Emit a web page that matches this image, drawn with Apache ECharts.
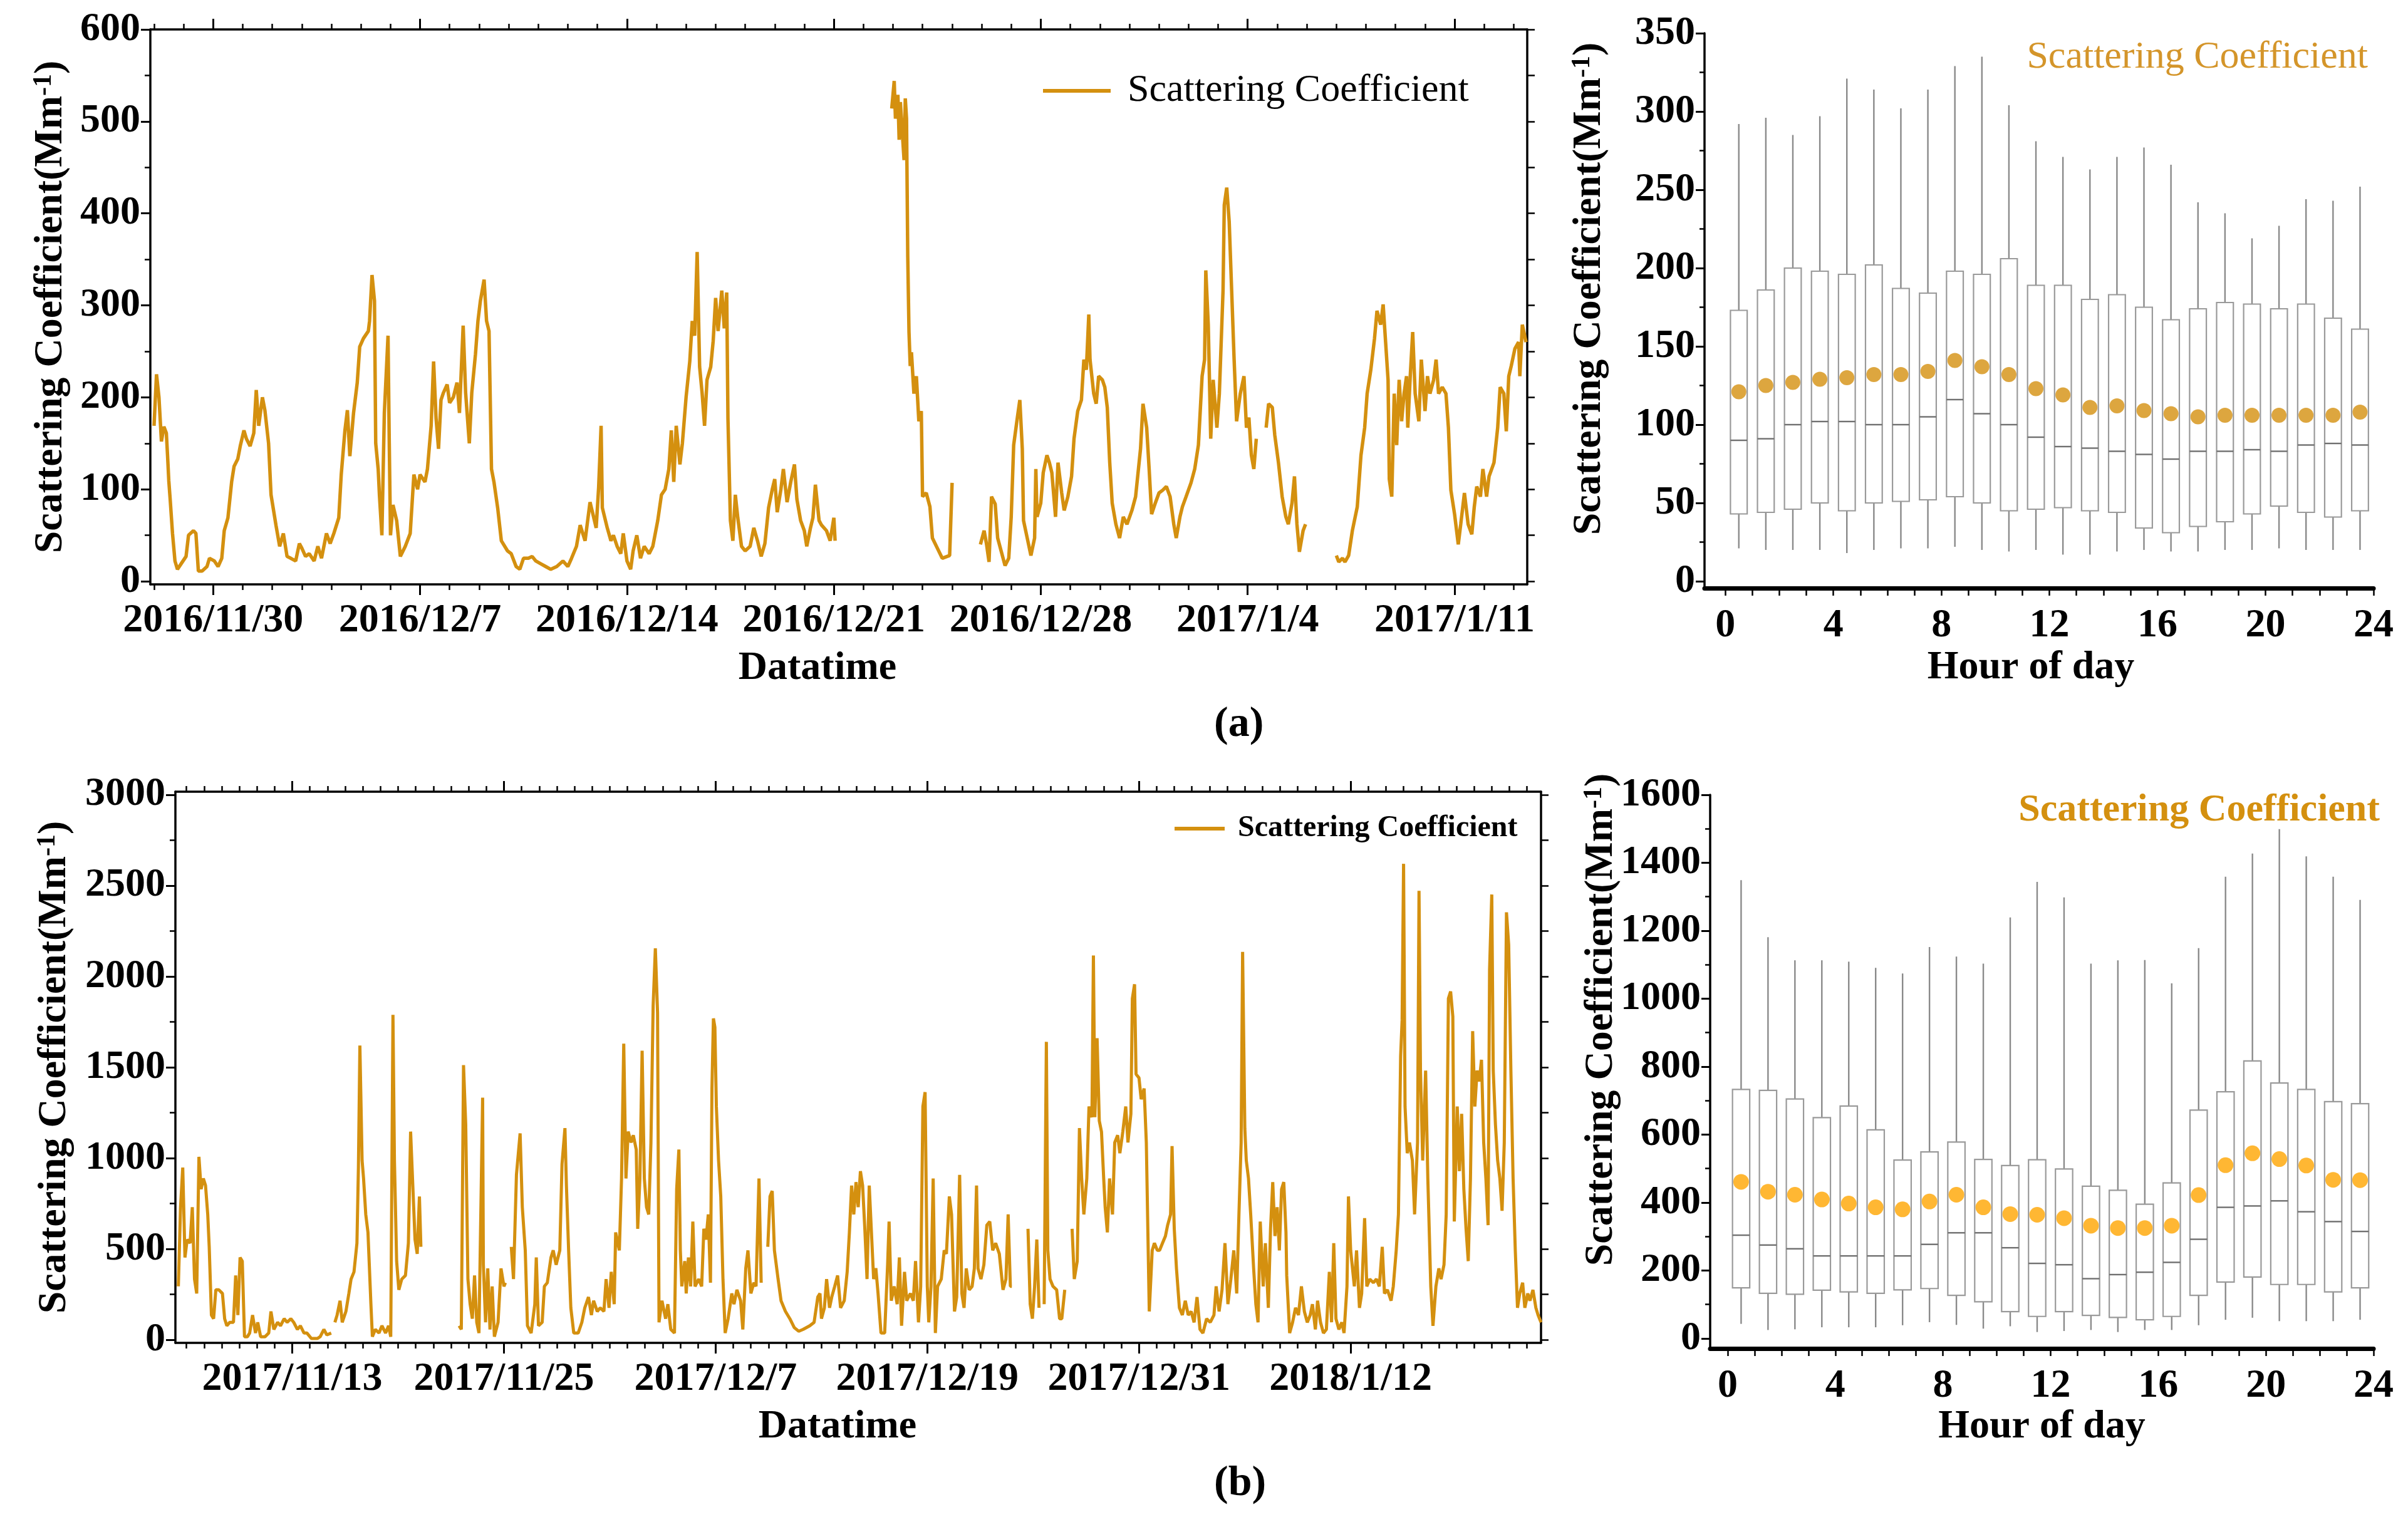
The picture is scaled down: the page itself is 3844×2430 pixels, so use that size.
<!DOCTYPE html>
<html><head><meta charset="utf-8">
<script src="https://cdn.jsdelivr.net/npm/echarts@6/dist/echarts.min.js"></script>
<style>html,body{margin:0;padding:0;background:#fff}#c{width:3844px;height:2430px}</style>
</head><body><div id="c"></div>
<script>
const FONT = "'Liberation Serif','Times New Roman',serif";
const GOLD = '#D4900F';
const ORANGE = '#FFA500';
const SERIES_NAME = 'Scattering Coefficient';

// ---------- Panel (a) time series: hours after 2016/11/30 00:00 ----------
const baseA = '2016/11/30';
const dateTicksA = ['2016/11/30','2016/12/7','2016/12/14','2016/12/21','2016/12/28','2017/1/4','2017/1/11'];
const yTicksA = [0,100,200,300,400,500,600];
const yMinorA = [50,150,250,350,450,550];
const segA1 = [[-48,169],[-46,225],[-44,200],[-42,152],[-40,168],[-38,161],[-37,136],[-36,109],[-35,91],[-33,52],[-31,22],[-29,13],[-26,19],[-22,27],[-20,50],[-16,55],[-14,52],[-12,11],[-9,11],[-5,16],[-3,25],[1,22],[4,16],[7,25],[9,55],[12,69],[15,108],[17,125],[20,133],[22,147],[25,164],[27,155],[30,147],[33,161],[35,208],[37,169],[40,200],[42,186],[45,150],[47,94],[51,61],[54,38],[57,52],[60,27],[63,25],[67,22],[70,41],[72,36],[75,27],[78,30],[82,22],[85,38],[88,25],[92,52],[95,41],[98,52],[102,69],[104,116],[107,164],[109,186],[111,136],[114,183],[117,216],[119,255],[122,264],[126,272],[127,283],[129,333],[131,305],[132,150],[134,122],[135,94],[137,50],[139,183],[142,267],[143,150],[144,50],[146,83],[149,66],[152,27],[156,38],[160,52],[163,116],[166,100],[168,116],[172,108],[174,122],[177,169],[179,239],[181,177],[183,144],[185,197],[187,205],[190,214],[192,194],[195,200],[198,216],[200,183],[203,278],[205,205],[208,150],[210,205],[213,247],[215,283],[217,305],[220,328],[222,283],[224,272],[226,122],[228,108],[231,80],[234,44],[239,33],[242,30],[246,16],[249,13],[252,25],[256,25],[259,27],[262,22],[266,19],[270,16],[274,13],[279,16],[284,22],[288,16],[291,25],[295,38],[298,61],[302,44],[306,86],[308,75],[311,58],[313,102],[315,169],[316,80],[320,58],[323,44],[325,50],[328,38],[331,30],[333,52],[336,22],[339,13],[341,33],[344,50],[347,25],[350,38],[354,30],[357,38],[361,66],[364,94],[367,100],[370,122],[372,164],[374,108],[376,169],[379,127],[381,150],[384,200],[387,239],[389,283],[391,267],[393,358],[395,233],[397,205],[399,169],[401,219],[404,233],[406,261],[408,308],[410,272],[413,316],[415,275],[417,314],[418,177],[420,66],[422,44],[424,94],[426,69],[429,38],[432,33],[436,38],[439,58],[442,44],[445,27],[448,41],[451,80],[454,100],[456,111],[458,75],[461,100],[463,122],[466,86],[469,108],[472,127],[474,89],[477,66],[480,55],[482,38],[485,58],[487,69],[489,105],[492,66],[494,61],[498,55],[501,44],[504,69],[505,44]];
const segA2 = [[551,514],[553,544],[554,503],[556,529],[557,480],[558,521],[561,458],[562,525],[563,503],[564,353],[565,271],[566,234],[567,249],[569,204],[571,223],[573,174],[575,185],[576,92],[579,96],[582,81],[584,47],[588,36],[592,25],[598,28],[600,107]];
const segA3 = [[623,40],[626,55],[628,40],[630,21],[632,92],[633,92],[635,84],[637,47],[640,32],[643,17],[646,25],[648,70],[650,148],[653,178],[655,197],[657,144],[658,66],[661,47],[664,28],[667,47],[668,122],[669,70],[672,85],[674,118],[677,137],[679,129],[681,118],[684,70],[686,129],[689,96],[691,77],[694,92],[697,114],[699,155],[702,185],[705,197],[707,241],[709,230],[711,290],[712,241],[715,204],[717,193],[719,223],[722,219],[724,211],[726,189],[728,129],[730,85],[733,62],[736,47],[739,70],[742,62],[746,77],[749,92],[753,144],[755,193],[758,167],[760,122],[762,73],[765,85],[768,96],[771,99],[774,103],[777,92],[780,62],[782,47],[785,70],[787,81],[790,92],[794,107],[797,122],[800,148],[803,223],[805,241],[806,338],[808,279],[810,155],[812,219],[815,167],[817,204],[820,316],[821,409],[823,428],[825,391],[827,316],[829,241],[831,174],[834,204],[837,223],[839,167],[841,178],[843,137],[845,122],[847,155]];
const segA4 = [[855,167],[857,193],[860,189],[862,159],[865,129],[868,92],[871,70],[873,62],[876,85],[878,114],[880,62],[882,32],[885,55],[887,62]];
const segA5 = [[912,28],[914,21],[917,25],[919,21],[922,28],[925,55],[929,81],[932,137],[935,167],[937,204],[940,230],[943,264],[945,294],[948,279],[950,301],[952,260],[954,219],[955,111],[957,92],[959,204],[961,148],[963,219],[965,174],[967,204],[969,223],[970,167],[972,223],[974,271],[976,204],[979,174],[981,241],[984,185],[986,223],[988,204],[991,219],[993,241],[995,204],[998,211],[1001,204],[1003,167],[1005,99],[1008,73],[1011,40],[1013,62],[1016,96],[1019,62],[1022,51],[1024,81],[1026,103],[1029,92],[1031,122],[1034,92],[1036,114],[1040,129],[1043,167],[1045,211],[1048,204],[1050,163],[1052,223],[1054,234],[1057,253],[1060,260],[1061,223],[1063,279],[1066,260]];

// ---------- Panel (b) time series: hours after 2017/11/13 00:00 ----------
const baseB = '2017/11/13';
const dateTicksB = ['2017/11/13','2017/11/25','2017/12/7','2017/12/19','2017/12/31','2018/1/12'];
const yTicksB = [0,500,1000,1500,2000,2500,3000];
const yMinorB = [250,750,1250,1750,2250,2750];
const segB1 = [[-155,294],[-152,730],[-149,948],[-146,453],[-143,552],[-139,532],[-136,730],[-133,334],[-130,255],[-127,1007],[-124,829],[-121,888],[-118,849],[-115,690],[-113,512],[-110,136],[-107,116],[-104,275],[-100,275],[-95,255],[-92,116],[-89,77],[-85,96],[-80,96],[-77,354],[-74,136],[-71,453],[-68,433],[-65,17],[-61,17],[-58,37],[-54,136],[-50,37],[-47,96],[-43,17],[-37,17],[-32,37],[-29,156],[-25,57],[-20,96],[-16,77],[-11,116],[-7,96],[-2,116],[2,96],[7,57],[11,77],[16,37],[20,37],[26,7],[34,7],[38,17],[43,57],[47,27],[53,37]];
const segB2 = [[58,96],[61,136],[65,215],[68,96],[73,156],[77,255],[80,334],[84,374],[88,532],[90,948],[92,1620],[95,987],[97,888],[100,690],[103,591],[107,196],[109,17],[113,57],[118,37],[122,77],[127,37],[131,77],[134,17],[137,1789],[139,987],[142,433],[145,275],[149,334],[154,354],[158,532],[161,1146],[164,849],[167,552],[170,473],[173,789],[175,512]];
const segB3 = [[227,77],[230,57],[233,1512],[236,1185],[239,334],[242,196],[245,116],[248,354],[251,96],[254,37],[259,1333],[260,413],[263,96],[266,393],[269,57],[272,294],[275,17],[280,96],[284,393],[288,294],[290,314]];
const segB4 = [[298,512],[301,334],[305,908],[310,1136],[313,730],[317,492],[320,77],[325,37],[330,196],[332,453],[335,77],[340,96],[343,294],[347,314],[352,453],[355,492],[359,413],[364,492],[367,967],[371,1165],[373,849],[376,492],[379,176],[383,37],[389,37],[394,96],[398,176],[403,235],[407,136],[410,215],[415,156],[419,176],[424,156],[427,334],[431,176],[434,374],[438,196],[440,591],[445,492],[448,888],[451,1630],[454,888],[457,1146],[461,1086],[464,1126],[468,1047],[470,611],[473,888],[476,1591],[479,888],[482,730],[485,690],[488,1086],[491,1838],[494,2155],[497,1799],[499,96],[503,215],[508,116],[511,196],[515,57],[520,37],[523,829],[526,1047],[528,492],[530,294],[534,433],[536,255],[539,453],[542,294],[545,651],[548,294],[553,334],[557,294],[560,611],[563,552],[566,690],[569,314],[571,1383],[573,1769],[575,1720],[577,1284],[580,987],[583,789],[586,334],[589,37],[593,116],[598,255],[601,196],[605,275],[610,215],[613,57],[617,393],[620,492],[624,255],[628,314],[631,294],[635,888],[638,314]];
const segB5 = [[647,512],[650,789],[653,819],[656,492],[661,334],[665,215],[671,156],[677,116],[683,67],[689,47],[695,57],[704,77],[710,96],[715,235],[718,255],[720,116],[724,176],[727,334],[731,176],[734,235],[738,294],[742,354],[746,176],[751,215],[755,374],[758,591],[761,849],[764,690],[767,868],[770,730],[773,928],[776,849],[779,611],[782,334],[785,849],[788,591],[791,334],[794,394],[797,255],[801,37],[806,37],[810,413],[812,651],[815,215],[819,294],[823,196],[826,453],[829,77],[833,374],[836,215],[841,255],[845,215],[848,433],[852,96],[855,294],[858,1284],[861,1363],[864,294],[866,96],[869,294],[872,888],[875,37],[878,294],[883,334],[887,492],[890,473],[894,789],[897,690],[901,156],[904,235],[908,908],[911,255],[914,176],[917,393],[921,275],[925,294],[928,393],[931,849],[933,393],[937,334],[941,413],[945,631],[949,651],[953,492],[957,532],[962,473],[967,275],[971,334],[974,690],[977,294],[979,294]];
const segB6 = [[1001,611],[1004,196],[1007,116],[1010,294],[1013,552],[1016,176]];
const segB7 = [[1023,196],[1026,1640],[1028,492],[1031,334],[1035,294],[1040,275],[1044,116],[1047,116],[1051,275]];
const segB8 = [[1061,611],[1064,334],[1068,433],[1071,1165],[1074,888],[1077,690],[1081,888],[1084,1284],[1088,1225],[1090,2115],[1092,1225],[1095,1660],[1098,1205],[1101,1145],[1104,888],[1106,730],[1109,591],[1112,888],[1116,690],[1119,1086],[1123,1126],[1126,1027],[1130,1145],[1134,1284],[1137,1086],[1141,1244],[1143,1878],[1146,1957],[1148,1462],[1152,1442],[1155,1324],[1159,1383],[1162,1086],[1166,156],[1170,492],[1173,532],[1177,492],[1180,492],[1184,532],[1188,571],[1191,631],[1195,690],[1197,1066],[1200,611],[1203,393],[1207,176],[1211,136],[1215,215],[1219,136],[1223,156],[1227,96],[1231,235],[1235,57],[1239,37],[1244,116],[1249,96],[1254,136],[1257,294],[1261,156],[1265,275],[1269,532],[1273,196],[1277,334],[1281,492],[1285,255],[1288,690],[1291,1086],[1293,2135],[1296,1165],[1298,987],[1301,888],[1304,690],[1308,393],[1311,196],[1314,96],[1317,651],[1321,294],[1324,532],[1328,176],[1331,611],[1334,868],[1337,571],[1340,730],[1343,492],[1346,829],[1349,868],[1352,591],[1353,354],[1357,37],[1361,96],[1365,176],[1369,136],[1373,294],[1377,156],[1381,96],[1385,136],[1388,196],[1392,57],[1395,215],[1399,96],[1403,37],[1407,57],[1411,374],[1414,96],[1417,532],[1420,116],[1424,57],[1428,96],[1431,37],[1435,294],[1437,789],[1440,492],[1442,413],[1445,294],[1448,492],[1452,176],[1455,255],[1459,670],[1462,294],[1466,334],[1471,314],[1475,334],[1479,294],[1483,512],[1486,255],[1490,275],[1495,215],[1498,294],[1502,492],[1505,690],[1508,1561],[1510,1759],[1512,2620],[1514,1284],[1517,1027],[1520,1086],[1524,987],[1527,690],[1531,1086],[1533,2471],[1535,1482],[1538,987],[1542,1482],[1545,888],[1549,294],[1552,77],[1556,294],[1560,393],[1563,334],[1567,413],[1570,690],[1573,1878],[1576,1917],[1579,1779],[1581,651],[1585,1284],[1588,928],[1591,1244],[1594,829],[1597,611],[1600,433],[1603,888],[1606,1699],[1609,1284],[1612,1482],[1615,1422],[1618,1541],[1621,1086],[1624,888],[1627,631],[1629,2036],[1632,2451],[1634,1482],[1637,1185],[1640,987],[1643,888],[1646,710],[1649,1086],[1652,2353],[1655,2174],[1658,1482],[1661,888],[1664,492],[1667,176],[1670,255],[1674,314],[1677,176],[1681,255],[1684,215],[1688,275],[1692,176],[1695,136],[1699,96]];

// ---------- Diurnal box plots ----------
const hourBins = [0.5,1.5,2.5,3.5,4.5,5.5,6.5,7.5,8.5,9.5,10.5,11.5,12.5,13.5,14.5,15.5,16.5,17.5,18.5,19.5,20.5,21.5,22.5,23.5];
const hourTicks = [0,4,8,12,16,20,24];
const boxYTicksA = [0,50,100,150,200,250,300,350];
const boxYMinorA = [25,75,125,175,225,275,325];
const minA  = [21,20,20,20,18,20,21,21,22,20,19,20,17,17,19,20,19,19,20,20,21,20,20,20];
const q1A   = [43,44,46,50,45,50,51,52,54,50,45,46,47,45,44,34,31,35,38,43,48,44,41,45];
const medA  = [90,91,100,102,102,100,100,105,116,107,100,92,86,85,83,81,78,83,83,84,83,87,88,87];
const q3A   = [173,186,200,198,196,202,187,184,198,196,206,189,189,180,183,175,167,174,178,177,174,177,168,161];
const maxA  = [292,296,285,297,321,314,302,314,329,335,304,281,271,263,271,277,266,242,235,219,227,244,243,252];
const meanA = [121,125,127,129,130,132,132,134,141,137,132,123,119,111,112,109,107,105,106,106,106,106,106,108];
const boxYTicksB = [0,200,400,600,800,1000,1200,1400,1600];
const boxYMinorB = [100,300,500,700,900,1100,1300,1500];
const minB  = [43,25,27,33,33,33,39,48,40,29,36,19,22,25,19,25,25,39,55,61,51,51,51,55];
const q1B   = [149,133,130,142,137,133,143,147,127,108,79,65,79,68,62,55,65,127,166,181,159,159,137,149];
const medB  = [304,275,264,243,243,243,243,277,311,311,267,221,217,176,188,195,224,292,386,390,405,373,344,315];
const q3B   = [733,730,705,650,684,614,525,549,578,527,509,526,499,448,436,395,458,672,726,817,752,733,697,691];
const maxB  = [1349,1181,1113,1113,1109,1091,1074,1152,1124,1103,1239,1344,1298,1103,1113,1114,1045,1149,1359,1427,1499,1419,1359,1291];
const meanB = [461,432,423,409,397,386,380,403,423,386,366,364,354,332,325,325,332,422,510,545,528,509,467,466];

// ---------- helpers ----------
function utc(s){ const p = s.split('/').map(Number); return Date.UTC(p[0], p[1]-1, p[2]); }
function hrs(base, s){ return (utc(s) - utc(base)) / 3600000; }
function joinSegs(segs){
  const out = [];
  segs.forEach((s, i) => {
    if (i > 0) out.push([(out[out.length-1][0] + s[0][0]) / 2, '-']);
    s.forEach(p => out.push(p));
  });
  return out;
}
const txt = (size, bold) => ({fontSize:size, fontWeight: bold ? 'bold' : 'normal', fontFamily:FONT, color:'#000'});
const LINE = (w) => ({show:true, onZero:false, lineStyle:{color:'#000', width:w}});
const NOLINE = {show:false, onZero:false};
const plain = v => String(v);
const Y_NAME = '{b|Scattering Coefficient(Mm}{s|-1}{b|)}';
function yNameStyle(padLeft){
  return {fontFamily:FONT, fontWeight:'bold', fontSize:64, color:'#000', padding:[0,0,0,padLeft],
    rich:{
      b:{fontSize:64, fontWeight:'bold', fontFamily:FONT, color:'#000', verticalAlign:'bottom', lineHeight:64},
      s:{fontSize:42, fontWeight:'bold', fontFamily:FONT, color:'#000', verticalAlign:'top', lineHeight:42, padding:[0,0,52,0]}
    }};
}

const xAxes = [], yAxes = [];
function addX(a){ xAxes.push(a); return xAxes.length - 1; }
function addY(a){ yAxes.push(a); return yAxes.length - 1; }

function timePanel(g, xmin, xmax, base, ticks, ymin, ymax, yt, ym, rightTicks, nameGapY, nameGapX, xNamePad){
  const major = ticks.map(t => hrs(base, t));
  const lab = {}; major.forEach((h, i) => lab[h] = ticks[i]);
  const daily = []; for (let h = Math.ceil(xmin/24)*24; h <= xmax; h += 24) daily.push(h);
  const cx = {type:'value', gridIndex:g, min:xmin, max:xmax, splitLine:{show:false}};
  const xi = addX({...cx, position:'bottom', axisLine:LINE(3.5),
    axisTick:{show:true, inside:false, customValues:major, length:17, lineStyle:{color:'#000', width:3}},
    axisLabel:{show:true, customValues:major, formatter:v => lab[v] || '', margin:26, ...txt(64, true)},
    name:'Datatime', nameLocation:'middle', nameGap:nameGapX, nameMoveOverlap:false,
    nameTextStyle:{...txt(64, true), padding:[0, xNamePad, 0, 0]}});
  addX({...cx, position:'bottom', axisLine:NOLINE, axisLabel:{show:false},
    axisTick:{show:true, customValues:daily, length:9, lineStyle:{color:'#000', width:2.5}}});
  addX({...cx, position:'top', axisLine:LINE(3.5), axisLabel:{show:false},
    axisTick:{show:true, customValues:major, length:17, lineStyle:{color:'#000', width:3}}});
  addX({...cx, position:'top', axisLine:NOLINE, axisLabel:{show:false},
    axisTick:{show:true, customValues:daily, length:9, lineStyle:{color:'#000', width:2.5}}});
  const cy = {type:'value', gridIndex:g, min:ymin, max:ymax, splitLine:{show:false}};
  const yi = addY({...cy, position:'left', axisLine:LINE(3.5),
    axisTick:{show:true, customValues:yt, length:15, lineStyle:{color:'#000', width:3}},
    axisLabel:{show:true, customValues:yt, formatter:plain, margin:16, ...txt(64, true)},
    name:Y_NAME, nameLocation:'middle', nameGap:nameGapY, nameMoveOverlap:false, nameTextStyle:yNameStyle(0)});
  addY({...cy, position:'left', axisLine:NOLINE, axisLabel:{show:false},
    axisTick:{show:true, customValues:ym, length:9, lineStyle:{color:'#000', width:2.5}}});
  addY({...cy, position:'right', axisLine:LINE(3.5), axisLabel:{show:false},
    axisTick:{show:true, customValues:rightTicks, length:12, lineStyle:{color:'#000', width:2.5}}});
  return {xi, yi};
}

function boxPanel(g, xmin, ymin, ymax, yt, ym, nameGapY, padY, nameGapX, xNamePad){
  const hoursAll = []; for (let h = 0; h <= 24; h++) hoursAll.push(h);
  const xi = addX({type:'value', gridIndex:g, min:xmin, max:24, position:'bottom', splitLine:{show:false},
    axisLine:LINE(7),
    axisTick:{show:true, customValues:hoursAll, length:12, lineStyle:{color:'#000', width:2.5}},
    axisLabel:{show:true, customValues:hourTicks, formatter:plain, margin:28, ...txt(64, true)},
    name:'Hour of day', nameLocation:'middle', nameGap:nameGapX, nameMoveOverlap:false,
    nameTextStyle:{...txt(64, true), padding:[0, xNamePad, 0, 0]}});
  const cy = {type:'value', gridIndex:g, min:ymin, max:ymax, splitLine:{show:false}};
  const yi = addY({...cy, position:'left', axisLine:LINE(3.5),
    axisTick:{show:true, customValues:yt, length:14, lineStyle:{color:'#000', width:3}},
    axisLabel:{show:true, customValues:yt, formatter:plain, margin:15, ...txt(64, true)},
    name:Y_NAME, nameLocation:'middle', nameGap:nameGapY, nameMoveOverlap:false, nameTextStyle:yNameStyle(padY)});
  addY({...cy, position:'left', axisLine:NOLINE, axisLabel:{show:false},
    axisTick:{show:true, customValues:ym, length:8, lineStyle:{color:'#000', width:2.5}}});
  return {xi, yi};
}

const rightTicksA = [0,50,100,150,200,250,300,350,400,450,500,550,600];
const rightTicksB = [0,250,500,750,1000,1250,1500,1750,2000,2250,2500,2750,3000];

const pA = timePanel(0, -51, 1067, baseA, dateTicksA, -3.4, 600, yTicksA, yMinorA, rightTicksA, 127, 102, 68);
const bA = boxPanel(1, -0.77, -4.4, 350, boxYTicksA, boxYMinorA, 152, 70, 95, 26);
const pB = timePanel(2, -159, 1699, baseB, dateTicksB, -17, 3017, yTicksB, yMinorB, rightTicksB, 161, 102, 66);
const bB = boxPanel(3, -0.65, -29.5, 1600, boxYTicksB, boxYMinorB, 142, 166, 93, 0);

function boxRows(mn, q1, md, q3, mx){ return hourBins.map((h, i) => [h, mn[i], q1[i], md[i], q3[i], mx[i]]); }
function boxRenderer(widthHours){
  return function(params, api){
    const x = api.value(0);
    const pMin = api.coord([x, api.value(1)]);
    const pQ1 = api.coord([x, api.value(2)]);
    const pMed = api.coord([x, api.value(3)]);
    const pQ3 = api.coord([x, api.value(4)]);
    const pMax = api.coord([x, api.value(5)]);
    const w = api.size([widthHours, 0])[0];
    const st = {stroke:'#8a8a8a', lineWidth:2.4, fill:null};
    return {type:'group', children:[
      {type:'line', shape:{x1:pMin[0], y1:pMin[1], x2:pQ1[0], y2:pQ1[1]}, style:st},
      {type:'line', shape:{x1:pQ3[0], y1:pQ3[1], x2:pMax[0], y2:pMax[1]}, style:st},
      {type:'rect', shape:{x:pQ3[0]-w/2, y:pQ3[1], width:w, height:pQ1[1]-pQ3[1]}, style:{stroke:'#9a9a9a', lineWidth:2.2, fill:'#fff'}},
      {type:'line', shape:{x1:pMed[0]-w/2, y1:pMed[1], x2:pMed[0]+w/2, y2:pMed[1]}, style:{stroke:'#707070', lineWidth:2.4}}
    ]};
  };
}

const option = {
  backgroundColor:'#fff',
  animation:false,
  grid:[
    {left:240, top:47, width:2198, height:886},
    {left:2721, top:53, width:1068, height:886},
    {left:280, top:1264, width:2180, height:880},
    {left:2730, top:1269, width:1059, height:884}
  ],
  xAxis:xAxes,
  yAxis:yAxes,
  title:[
    {text:'{p|(}{b|a}{p|)}', left:1933, top:1118, textStyle:{rich:{p:{fontSize:68, fontFamily:FONT, color:'#000'}, b:{fontSize:68, fontWeight:'bold', fontFamily:FONT, color:'#000'}}}},
    {text:'{p|(}{b|b}{p|)}', left:1933, top:2330, textStyle:{rich:{p:{fontSize:68, fontFamily:FONT, color:'#000'}, b:{fontSize:68, fontWeight:'bold', fontFamily:FONT, color:'#000'}}}},
    {text:SERIES_NAME, right:59, top:56, textStyle:{fontSize:62, fontWeight:'normal', fontFamily:FONT, color:'#D4952A'}},
    {text:SERIES_NAME, right:40, top:1258, textStyle:{fontSize:62, fontWeight:'bold', fontFamily:FONT, color:GOLD}}
  ],
  legend:[
    {data:[SERIES_NAME], left:1660, top:109, icon:'rect', itemWidth:108, itemHeight:6, selectedMode:false,
      textStyle:{fontSize:62, fontFamily:FONT, color:'#000', padding:[0,0,0,22]}},
    {data:[SERIES_NAME], left:1870, top:1294, icon:'rect', itemWidth:80, itemHeight:6, selectedMode:false,
      textStyle:{fontSize:48, fontWeight:'bold', fontFamily:FONT, color:'#000', padding:[0,0,0,16]}}
  ],
  series:[
    {name:SERIES_NAME, type:'line', xAxisIndex:pA.xi, yAxisIndex:pA.yi, data:joinSegs([segA1,segA2,segA3,segA4,segA5]),
      symbol:'none', connectNulls:false, lineStyle:{color:GOLD, width:5.5}, itemStyle:{color:GOLD}},
    {name:SERIES_NAME, type:'line', xAxisIndex:pB.xi, yAxisIndex:pB.yi, data:joinSegs([segB1,segB2,segB3,segB4,segB5,segB6,segB7,segB8]),
      symbol:'none', connectNulls:false, lineStyle:{color:GOLD, width:5}, itemStyle:{color:GOLD}},
    {type:'custom', xAxisIndex:bA.xi, yAxisIndex:bA.yi, renderItem:boxRenderer(0.62), data:boxRows(minA,q1A,medA,q3A,maxA), encode:{x:0, y:[1,2,3,4,5]}, z:2},
    {type:'scatter', xAxisIndex:bA.xi, yAxisIndex:bA.yi, data:hourBins.map((h,i)=>[h, meanA[i]]), symbol:'circle', symbolSize:24, itemStyle:{color:GOLD}, z:3},
    {type:'custom', xAxisIndex:bB.xi, yAxisIndex:bB.yi, renderItem:boxRenderer(0.64), data:boxRows(minB,q1B,medB,q3B,maxB), encode:{x:0, y:[1,2,3,4,5]}, z:2},
    {type:'scatter', xAxisIndex:bB.xi, yAxisIndex:bB.yi, data:hourBins.map((h,i)=>[h, meanB[i]]), symbol:'circle', symbolSize:25, itemStyle:{color:ORANGE}, z:3}
  ]
};
const chart = echarts.init(document.getElementById('c'), null, {renderer:'canvas'});
chart.setOption(option);
</script>
</body></html>
